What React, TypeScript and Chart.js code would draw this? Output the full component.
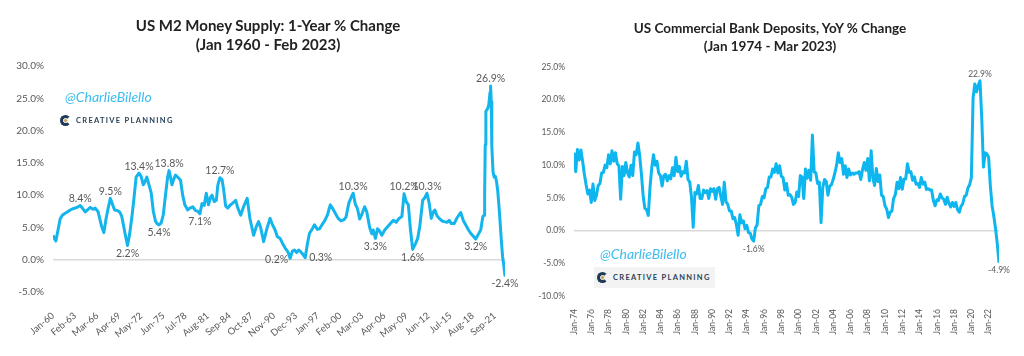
import React, { useEffect, useRef } from "react";
import { Chart, registerables } from "chart.js";
Chart.register(...registerables);

const FONT = "Lato, 'DejaVu Sans', sans-serif";

// ---------------- Left chart: US M2 Money Supply, 1-year % change ----------------
const m2Years = [
  1960.0, 1960.2, 1960.4, 1960.7, 1961.0, 1961.3, 1961.7, 1962.0, 1962.4, 1962.8,
  1963.1, 1963.5, 1963.8, 1964.1, 1964.5, 1964.9, 1965.2, 1965.6, 1965.9, 1966.3,
  1966.6, 1966.8, 1967.1, 1967.4, 1967.7, 1968.0, 1968.3, 1968.6, 1969.0, 1969.3,
  1969.6, 1969.9, 1970.1, 1970.4, 1970.7, 1971.0, 1971.3, 1971.6, 1972.0, 1972.3,
  1972.6, 1972.8, 1973.1, 1973.4, 1973.7, 1974.0, 1974.3, 1974.5, 1974.8, 1975.1,
  1975.4, 1975.7, 1976.0, 1976.2, 1976.4, 1976.6, 1976.9, 1977.1, 1977.4, 1977.8,
  1978.1, 1978.4, 1978.8, 1979.1, 1979.5, 1979.9, 1980.2, 1980.5, 1980.8, 1981.1,
  1981.4, 1981.7, 1982.0, 1982.2, 1982.5, 1982.8, 1983.0, 1983.3, 1983.6, 1983.8,
  1984.1, 1984.4, 1984.7, 1985.0, 1985.5, 1985.8, 1986.2, 1986.6, 1987.1, 1987.5,
  1988.0, 1988.4, 1988.7, 1989.0, 1989.4, 1989.9, 1990.3, 1990.6, 1991.0, 1991.3,
  1991.7, 1992.0, 1992.4, 1992.8, 1993.1, 1993.4, 1993.7, 1994.0, 1994.3, 1994.6,
  1994.9, 1995.2, 1995.5, 1995.8, 1996.2, 1996.5, 1996.9, 1997.2, 1997.6, 1997.9,
  1998.3, 1998.7, 1999.0, 1999.4, 1999.8, 2000.2, 2000.6, 2000.9, 2001.3, 2001.6,
  2001.9, 2002.2, 2002.5, 2002.8, 2003.1, 2003.5, 2003.8, 2004.2, 2004.5, 2004.7,
  2005.0, 2005.3, 2005.6, 2005.9, 2006.3, 2006.7, 2007.1, 2007.5, 2007.9, 2008.3,
  2008.7, 2009.0, 2009.3, 2009.6, 2009.9, 2010.2, 2010.6, 2010.9, 2011.2, 2011.6,
  2011.9, 2012.2, 2012.5, 2012.8, 2013.1, 2013.3, 2013.6, 2013.9, 2014.3, 2014.6,
  2015.0, 2015.3, 2015.6, 2016.0, 2016.4, 2016.9, 2017.3, 2017.6, 2018.0, 2018.3,
  2018.7, 2019.0, 2019.4, 2019.7, 2020.0, 2020.17, 2020.25, 2020.33, 2020.42, 2020.5,
  2020.67, 2020.83, 2021.0, 2021.08, 2021.17, 2021.25, 2021.42, 2021.58, 2021.75, 2021.92,
  2022.08, 2022.25, 2022.42, 2022.58, 2022.75, 2022.92, 2023.0, 2023.08,
];
const m2Values = [
  3.8, 3.3, 2.9, 4.6, 6.3, 6.9, 7.2, 7.4, 7.7, 7.9,
  8.0, 8.2, 8.4, 8.0, 7.4, 7.8, 8.1, 7.8, 8.0, 7.4,
  6.0, 5.1, 4.2, 6.3, 8.0, 9.5, 8.6, 7.7, 7.6, 7.4,
  6.7, 5.0, 3.8, 2.2, 4.0, 6.5, 9.5, 12.8, 13.4, 12.9,
  11.6, 12.0, 12.8, 11.6, 10.4, 7.5, 6.0, 5.6, 5.4, 5.7,
  7.0, 10.0, 12.8, 13.8, 12.8, 11.6, 12.6, 13.1, 12.8, 12.3,
  10.0, 8.5, 7.7, 8.0, 8.2, 7.6, 7.5, 7.1, 8.7, 8.4,
  10.3, 8.5, 9.7, 10.0, 9.0, 9.2, 11.5, 12.7, 12.4, 11.0,
  8.3, 8.0, 8.4, 8.7, 9.2, 8.0, 6.9, 8.2, 9.5, 6.3,
  3.8, 5.2, 5.9, 4.9, 2.8, 5.0, 6.4, 5.5, 4.6, 3.6,
  3.3, 2.6, 1.8, 1.2, 0.2, 1.3, 1.5, 1.1, 1.5, 1.2,
  0.8, 0.3, 2.4, 4.1, 4.8, 5.4, 4.7, 4.8, 5.5, 6.0,
  6.9, 8.5, 8.0, 7.2, 6.4, 6.0, 6.2, 6.6, 8.8, 9.6,
  10.3, 8.6, 7.9, 6.3, 7.0, 8.2, 7.4, 5.0, 4.0, 4.6,
  3.3, 4.8, 4.4, 3.8, 4.6, 5.1, 5.6, 6.1, 5.8, 6.4,
  6.7, 10.2, 9.0, 8.5, 4.6, 1.6, 2.5, 3.3, 5.2, 9.2,
  9.6, 10.3, 8.8, 6.4, 7.4, 7.7, 6.8, 6.4, 6.0, 5.9,
  5.8, 6.1, 5.6, 5.6, 6.5, 7.3, 6.0, 5.4, 4.6, 4.1,
  3.6, 3.2, 4.0, 4.6, 6.7, 6.9, 10.3, 17.8, 23.0, 23.1,
  23.4, 24.0, 25.9, 26.9, 24.5, 17.5, 13.6, 12.8, 12.9, 12.0,
  10.6, 8.3, 5.6, 3.0, 0.5, -0.9, -1.7, -2.4,
];
const m2TickLabels = [
  "Jan-60", "Feb-63", "Mar-66", "Apr-69", "May-72", "Jun-75", "Jul-78", "Aug-81",
  "Sep-84", "Oct-87", "Nov-90", "Dec-93", "Jan-97", "Feb-00", "Mar-03", "Apr-06",
  "May-09", "Jun-12", "Jul-15", "Aug-18", "Sep-21",
];
const m2LabelYears = [
  1963.8, 1968.0, 1970.4, 1972.0, 1974.8, 1976.2, 1980.5, 1983.3, 1993.1,
  1995.2, 2001.9, 2005.0, 2009.0, 2010.2, 2012.2, 2019.0, 2021.08, 2023.08,
];
const m2LabelPlaces = [
  "above", "above", "below", "above", "below", "above", "below", "above", "left",
  "right", "above", "below", "above", "below", "above", "below", "above", "below",
];

// ---------------- Right chart: US commercial bank deposits, YoY % change ----------------
// five readings per year (Jan 1974 .. Mar 2023)
const depValues = [
  11.9, 9.0, 12.4, 10.8, 12.3, // 1974
  10.6, 8.6, 7.0, 5.6, 6.2, // 1975
  4.3, 7.1, 4.6, 5.4, 6.9, // 1976
  7.2, 8.8, 8.9, 10.0, 9.6, // 1977
  11.6, 10.2, 12.2, 10.6, 11.9, // 1978
  10.2, 9.9, 4.8, 9.8, 8.4, // 1979
  10.4, 8.8, 8.2, 10.0, 8.4, // 1980
  12.0, 11.6, 13.4, 11.5, 8.7, // 1981
  5.4, 3.4, 3.2, 2.3, 6.6, // 1982
  9.6, 11.6, 10.0, 10.6, 8.8, // 1983
  8.4, 6.8, 8.4, 8.6, 7.6, // 1984
  8.4, 7.9, 9.6, 8.4, 11.2, // 1985
  9.0, 9.8, 8.3, 9.0, 8.8, // 1986
  10.6, 7.8, 7.4, 5.1, 0.5, // 1987
  5.8, 5.6, 6.9, 4.9, 4.9, // 1988
  6.2, 5.8, 6.1, 4.9, 6.4, // 1989
  6.0, 6.4, 4.8, 6.4, 6.6, // 1990
  5.2, 4.0, 7.4, 4.4, 4.0, // 1991
  3.0, 3.0, 1.8, 2.0, 0.9, // 1992
  -0.7, 2.4, 1.2, 1.5, 0.3, // 1993
  0.8, -0.3, -0.4, -1.3, -1.6, // 1994
  0.4, 0.9, 3.8, 4.0, 5.2, // 1995
  5.0, 6.4, 6.6, 8.2, 8.2, // 1996
  9.4, 8.9, 10.2, 8.8, 9.9, // 1997
  8.3, 8.1, 6.2, 7.2, 5.4, // 1998
  5.5, 5.1, 4.0, 4.3, 5.9, // 1999
  5.2, 8.4, 8.2, 4.9, 9.4, // 2000
  8.0, 9.2, 7.7, 14.6, 9.0, // 2001
  8.8, 7.2, 7.4, 1.2, 6.6, // 2002
  7.8, 7.5, 5.4, 6.8, 7.0, // 2003
  7.8, 8.8, 10.0, 11.9, 10.4, // 2004
  11.0, 8.6, 9.9, 8.1, 9.4, // 2005
  8.5, 8.8, 8.6, 8.8, 8.8, // 2006
  9.0, 7.8, 9.3, 10.4, 9.2, // 2007
  11.0, 7.6, 12.2, 8.0, 6.9, // 2008
  9.5, 7.5, 8.5, 5.4, 5.2, // 2009
  3.8, 3.3, 2.0, 2.8, 3.0, // 2010
  4.9, 5.5, 7.4, 6.4, 8.1, // 2011
  6.3, 7.9, 7.9, 10.2, 8.9, // 2012
  9.0, 7.7, 8.2, 7.1, 7.2, // 2013
  6.6, 8.1, 7.1, 7.4, 6.3, // 2014
  6.4, 6.2, 6.2, 4.6, 3.8, // 2015
  4.7, 4.6, 5.6, 5.0, 4.8, // 2016
  4.0, 5.1, 4.2, 3.6, 4.3, // 2017
  3.7, 4.3, 3.2, 2.8, 3.7, // 2018
  4.1, 5.2, 5.4, 6.5, 7.0, // 2019
  8.1, 20.3, 22.4, 21.2, 22.2, // 2020
  22.9, 17.3, 9.7, 11.9, 11.7, // 2021
  11.2, 6.8, 3.8, 2.2, 0.3, // 2022
  -2.0, -4.9, // 2023
];
const depStartYear = 1974;
const depReadingsPerYear = 5;
const depTickLabels = [
  "Jan-74", "Jan-76", "Jan-78", "Jan-80", "Jan-82", "Jan-84", "Jan-86", "Jan-88",
  "Jan-90", "Jan-92", "Jan-94", "Jan-96", "Jan-98", "Jan-00", "Jan-02", "Jan-04",
  "Jan-06", "Jan-08", "Jan-10", "Jan-12", "Jan-14", "Jan-16", "Jan-18", "Jan-20", "Jan-22",
];
const depLabelYears = [1994.8, 2021.0, 2023.2];
const depLabelPlaces = ["below", "above", "below"];

// ---------------- helpers ----------------
const MONTHS = ["Jan", "Feb", "Mar", "Apr", "May", "Jun", "Jul", "Aug", "Sep", "Oct", "Nov", "Dec"];
function labelToYear(lbl: string): number {
  const [m, yy] = lbl.split("-");
  const y2 = parseInt(yy, 10);
  const year = y2 < 50 ? 2000 + y2 : 1900 + y2;
  return year + MONTHS.indexOf(m) / 12;
}

const pointLabelPlugin = {
  id: "pointLabels",
  afterDatasetsDraw(chart: any, _args: any, opts: any) {
    const { ctx } = chart;
    const xs = chart.scales.x;
    const ys = chart.scales.y;
    const pts = chart.data.datasets[0].data as { x: number; y: number }[];
    ctx.save();
    ctx.font = `${opts.size}px ${FONT}`;
    ctx.fillStyle = opts.color;
    ctx.textBaseline = "middle";
    (opts.years as number[]).forEach((yr, i) => {
      const p = pts.find((q) => Math.abs(q.x - yr) < 1e-6);
      if (!p) return;
      const px = xs.getPixelForValue(p.x);
      const py = ys.getPixelForValue(p.y);
      const text = p.y.toFixed(1) + "%";
      const place = opts.places[i];
      ctx.textAlign = "center";
      let tx = px;
      let ty = py;
      if (place === "above") ty = py - opts.gapAbove;
      else if (place === "below") ty = py + opts.gapBelow;
      else if (place === "left") {
        ctx.textAlign = "right";
        tx = px - 2;
        ty = py + 1;
      } else if (place === "right") {
        ctx.textAlign = "left";
        tx = px + 4;
      }
      ctx.fillText(text, tx, ty);
    });
    ctx.restore();
  },
};

interface Cfg {
  years: number[];
  values: number[];
  xMin: number;
  xMax: number;
  yMin: number;
  yMax: number;
  tickLabels: string[];
  rotation: number;
  xPad: number;
  yPad: number;
  tickSize: number;
  xTickSize: number;
  yAxisWidth: number;
  xAxisHeight: number;
  padding: { top: number; right: number; bottom: number; left: number };
  color: string;
  lineWidth: number;
  labelYears: number[];
  labelPlaces: string[];
  labelSize: number;
  gapAbove: number;
  gapBelow: number;
}

function buildChart(canvas: HTMLCanvasElement, c: Cfg) {
  const tickVals = c.tickLabels.map(labelToYear);
  return new Chart(canvas, {
    type: "line",
    data: {
      datasets: [
        {
          data: c.years.map((x, i) => ({ x, y: c.values[i] })),
          borderColor: c.color,
          borderWidth: c.lineWidth,
          pointRadius: 0,
          tension: 0,
          fill: false,
          borderJoinStyle: "round",
        } as any,
      ],
    },
    options: {
      animation: false,
      responsive: false,
      maintainAspectRatio: false,
      devicePixelRatio: 1,
      layout: { padding: c.padding },
      plugins: {
        legend: { display: false },
        tooltip: { enabled: false },
        pointLabels: {
          years: c.labelYears,
          places: c.labelPlaces,
          size: c.labelSize,
          color: "#595959",
          gapAbove: c.gapAbove,
          gapBelow: c.gapBelow,
        },
      } as any,
      scales: {
        x: {
          type: "linear",
          min: c.xMin,
          max: c.xMax,
          grid: { display: false },
          border: { display: false },
          afterBuildTicks: (s: any) => {
            s.ticks = tickVals.map((v) => ({ value: v }));
          },
          afterFit: (s: any) => {
            s.height = c.xAxisHeight;
          },
          ticks: {
            autoSkip: false,
            minRotation: c.rotation,
            maxRotation: c.rotation,
            padding: c.xPad,
            color: "#595959",
            font: { size: c.xTickSize, family: FONT },
            callback: (_v: any, i: number) => c.tickLabels[i],
          },
        } as any,
        y: {
          min: c.yMin,
          max: c.yMax,
          border: { display: false },
          afterFit: (s: any) => {
            s.width = c.yAxisWidth;
          },
          grid: {
            drawTicks: false,
            lineWidth: 1.5,
            color: (ctx: any) => (ctx.tick && ctx.tick.value === 0 ? "#d9d9d9" : "rgba(0,0,0,0)"),
          },
          ticks: {
            stepSize: 5,
            padding: c.yPad,
            color: "#595959",
            font: { size: c.tickSize, family: FONT },
            callback: (v: any) => Number(v).toFixed(1) + "%",
          },
        } as any,
      },
    },
    plugins: [pointLabelPlugin as any],
  });
}

function Logo({ left, top, withBox }: { left: number; top: number; withBox?: boolean }) {
  return (
    <div
      style={{
        position: "absolute",
        left,
        top,
        height: withBox ? 21 : 12,
        width: withBox ? 121 : undefined,
        background: withBox ? "#f3f3f3" : "transparent",
        display: "flex",
        alignItems: "center",
        paddingLeft: withBox ? 3 : 0,
        boxSizing: "border-box",
      }}
    >
      <div style={{ position: "relative", width: 11, height: 11, marginRight: 5 }}>
        <div
          style={{
            position: "absolute",
            left: 0,
            top: 0,
            width: 11,
            height: 11,
            boxSizing: "border-box",
            border: "3px solid #1f3a55",
            borderRightColor: "transparent",
            borderRadius: "50%",
          }}
        />
        <div
          style={{
            position: "absolute",
            left: 4,
            top: 4,
            width: 3,
            height: 3,
            background: "#c8a257",
            transform: "rotate(45deg)",
          }}
        />
      </div>
      <span
        style={{
          fontFamily: FONT,
          fontWeight: 700,
          fontSize: 7.5,
          letterSpacing: 1.3,
          color: "#2b4257",
          whiteSpace: "nowrap",
        }}
      >
        CREATIVE PLANNING
      </span>
    </div>
  );
}

export default function App() {
  const leftRef = useRef<HTMLCanvasElement>(null);
  const rightRef = useRef<HTMLCanvasElement>(null);

  useEffect(() => {
    const c1 = buildChart(leftRef.current!, {
      years: m2Years,
      values: m2Values,
      xMin: 1960,
      xMax: 2023.09,
      yMin: -5,
      yMax: 30,
      tickLabels: m2TickLabels,
      rotation: 40,
      xPad: 10,
      yPad: 9,
      tickSize: 10,
      xTickSize: 9.5,
      yAxisWidth: 53,
      xAxisHeight: 64,
      padding: { top: 66, right: 25, bottom: 0, left: 0 },
      color: "#14b4ec",
      lineWidth: 3,
      labelYears: m2LabelYears,
      labelPlaces: m2LabelPlaces,
      labelSize: 10.5,
      gapAbove: 7,
      gapBelow: 8,
    });
    const depYears = depValues.map((_, i) => depStartYear + i / depReadingsPerYear);
    const c2 = buildChart(rightRef.current!, {
      years: depYears,
      values: depValues,
      xMin: 1974,
      xMax: 2023.2,
      yMin: -10,
      yMax: 25,
      tickLabels: depTickLabels,
      rotation: 90,
      xPad: 5,
      yPad: 9,
      tickSize: 8.5,
      xTickSize: 8.5,
      yAxisWidth: 62,
      xAxisHeight: 60,
      padding: { top: 67, right: 25, bottom: 0, left: 0 },
      color: "#0db6ee",
      lineWidth: 3,
      labelYears: depLabelYears,
      labelPlaces: depLabelPlaces,
      labelSize: 8.5,
      gapAbove: 6,
      gapBelow: 8,
    });
    return () => {
      c1.destroy();
      c2.destroy();
    };
  }, []);

  const titleBase: React.CSSProperties = {
    position: "absolute",
    textAlign: "center",
    fontFamily: FONT,
    fontWeight: 700,
    color: "#222",
    whiteSpace: "nowrap",
  };
  const handle: React.CSSProperties = {
    position: "absolute",
    fontFamily: FONT,
    fontStyle: "italic",
    fontSize: 14,
    lineHeight: "16px",
    color: "#3fbdf0",
    whiteSpace: "nowrap",
  };

  return (
    <div
      style={{
        position: "absolute",
        left: 0,
        top: 0,
        width: 1024,
        height: 356,
        background: "#fff",
        overflow: "hidden",
      }}
    >
      <canvas
        ref={leftRef}
        width={530}
        height={356}
        style={{ position: "absolute", left: 0, top: 0, width: 530, height: 356 }}
      />
      <canvas
        ref={rightRef}
        width={512}
        height={356}
        style={{ position: "absolute", left: 512, top: 0, width: 512, height: 356 }}
      />
      <div style={{ ...titleBase, left: 0, width: 536, top: 16, fontSize: 15, lineHeight: "19px" }}>
        US M2 Money Supply: 1-Year % Change
        <br />
        (Jan 1960 - Feb 2023)
      </div>
      <div style={{ ...titleBase, left: 520, width: 500, top: 19, fontSize: 13.5, lineHeight: "18px" }}>
        US Commercial Bank Deposits, YoY % Change
        <br />
        (Jan 1974 - Mar 2023)
      </div>
      <div style={{ ...handle, left: 65, top: 89 }}>@CharlieBilello</div>
      <Logo left={60} top={114} />
      <div style={{ ...handle, left: 600, top: 246 }}>@CharlieBilello</div>
      <Logo left={594} top={267} withBox />
    </div>
  );
}
